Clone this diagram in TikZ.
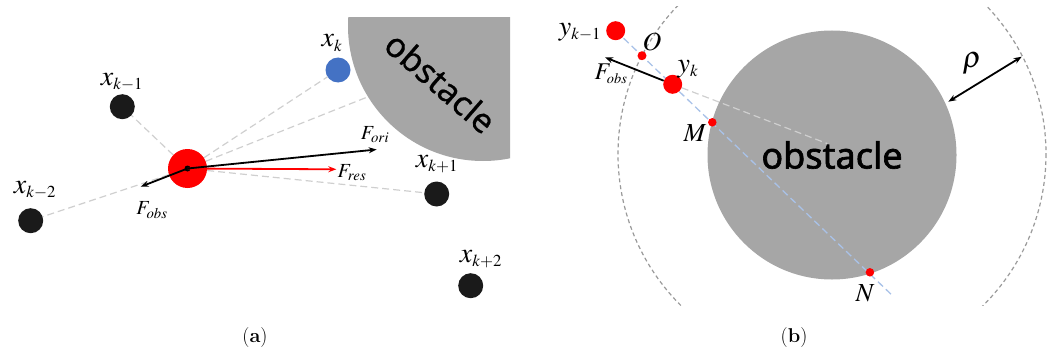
\documentclass[tikz,border=0pt]{standalone}
\usepackage{mathptmx}
\usepackage[no-math]{fontspec}
\newfontfamily\obsfont[FakeBold=0.6]{Noto Sans}
\newfontfamily\obsboldfont[FakeBold=1.8]{Noto Sans}
\usepackage{tikz}
\usetikzlibrary{arrows.meta,calc,backgrounds}
\definecolor{obsgray}{HTML}{A6A6A6}
\definecolor{ptblue}{HTML}{4472C4}
\definecolor{dotblack}{HTML}{1A1A1A}
\definecolor{linkgray}{HTML}{CFCFCF}
\definecolor{rayblue}{HTML}{A9C2E8}
\definecolor{ringgray}{HTML}{9A9A9A}
\tikzset{
  ptnode/.style={circle,inner sep=0pt,minimum size=#1},
  link/.style={linkgray,line width=1.2pt,dash pattern=on 7pt off 4pt},
  force/.style={line width=1.8pt,-{Stealth[length=8pt,width=6pt]}},
  lab/.style={inner sep=0pt,font=\fontsize{28}{30}\selectfont},
  flab/.style={inner sep=0pt,font=\fontsize{20}{22}\selectfont},
  plab/.style={inner sep=0pt,font=\fontsize{26}{28}\selectfont},
  caplab/.style={inner sep=0pt,font=\fontsize{20}{22}\selectfont}
}

\begin{document}
\begin{tikzpicture}[x=1pt,y=-1pt]
\useasboundingbox (0,0) rectangle (1059,353);
% (a) points along the path
\node[ptnode=39pt,fill=red] (c) at (187.5,168.5) {};
\node[ptnode=25pt,fill=dotblack] (xkm1) at (122.3,106.7) {};
\node[ptnode=25pt,fill=dotblack] (xkm2) at (30.7,220.7) {};
\node[ptnode=25pt,fill=ptblue] (xk) at (338,70) {};
\node[ptnode=25pt,fill=dotblack] (xkp1) at (436.7,194) {};
\node[ptnode=25pt,fill=dotblack] (xkp2) at (470.7,285.7) {};
\node[ptnode=6pt,fill=black] (cc) at (c.center) {};
\coordinate (edge) at (366.7,97.3);
\begin{scope}[on background layer]
\begin{scope}
\clip (300,18) rectangle (510,200);
\fill[obsgray] (483,26) circle (135);
\end{scope}
\foreach \p in {xkm1,xkm2,xk,xkp1}{\draw[link] (c) -- (\p);}
\draw[link] (c) -- (edge);
\end{scope}
\node[rotate=-41,inner sep=0pt,font=\obsfont\fontsize{34}{36}\selectfont] (obsA) at (440.7,82.3) {obstacle};
% (a) forces
\coordinate (fori) at (376.7,149.5);
\coordinate (fres) at (336.3,169.3);
\coordinate (fobs) at (140.7,186.7);
\draw[force,red] (cc.center) -- (fres);
\draw[force] (cc.center) -- (fori);
\draw[force] (cc.center) -- (fobs);
\node[lab] (lxkm1) at (122,82) {$x_{\scriptscriptstyle k-1}$};
\node[lab] (lxkm2) at (35,190) {$x_{\scriptscriptstyle k-2}$};
\node[lab] (lxk) at (332,43) {$x_{\scriptscriptstyle k}$};
\node[lab] (lxkp1) at (437,164) {$x_{\scriptscriptstyle k+1}$};
\node[lab] (lxkp2) at (481,259) {$x_{\scriptscriptstyle k+2}$};
\node[flab] (lfori) at (375,135) {$F_{ori}$};
\node[flab] (lfres) at (352,173) {$F_{res}$};
\node[flab] (lfobs) at (152,210) {$F_{obs}$};
\node[caplab] (capa) at (255,338) {(\textbf{a})};
\begin{scope}[xshift=530pt]
% (b) trajectory points
\node[ptnode=19pt,fill=red] (ykm1) at (85.7,30.7) {};
\node[ptnode=9pt,fill=red] (O) at (112,55.7) {};
\node[ptnode=19pt,fill=red] (yk) at (142.7,84.3) {};
\node[ptnode=8.5pt,fill=red] (M) at (182.3,122.3) {};
\node[ptnode=8.5pt,fill=red] (N) at (339.9,272.3) {};
\coordinate (rayend) at (363.2,296.3);
\coordinate (hit) at (297.3,143.6);
\begin{scope}[on background layer]
\begin{scope}
\clip (0,6.7) rectangle (529,305);
\draw[ringgray,line width=1.2pt,dash pattern=on 4pt off 3pt] (302,154) circle (214);
\end{scope}
\node[circle,fill=obsgray,minimum size=249pt,inner sep=0pt,font=\obsboldfont\fontsize{36}{38}\selectfont] (obsB) at (302,155) {obstacle};
\draw[rayblue,line width=1.3pt,dash pattern=on 7pt off 4pt] (ykm1.center) -- (rayend);
\draw[linkgray,line width=1.2pt,dash pattern=on 7pt off 4pt] (yk) -- (hit);
\end{scope}
\coordinate (fobsB) at (75,57.3);
\draw[force] (yk) -- (fobsB);
\coordinate (rin) at (418.3,101.7);
\coordinate (rout) at (491.7,56.7);
\draw[line width=1.8pt,{Stealth[length=8pt,width=6pt]}-{Stealth[length=8pt,width=6pt]}] (rin) -- (rout);
\node[lab] (lykm1) at (50,32) {$y_{\scriptscriptstyle k-1}$};
\node[plab] (lO) at (122,42) {$O$};
\node[lab] (lyk) at (158,69) {$y_{\scriptscriptstyle k}$};
\node[inner sep=0pt,font=\fontsize{24}{26}\selectfont] (lfobsB) at (81,74) {$F_{\scriptscriptstyle obs}$};
\node[plab] (lM) at (165,133) {$M$};
\node[plab] (lN) at (335,293) {$N$};
\node[inner sep=0pt,font=\fontsize{30}{32}\selectfont] (lrho) at (442,64) {$\rho$};
\node[caplab] (capb) at (264,338) {(\textbf{b})};
\end{scope}
\end{tikzpicture}
\end{document}
